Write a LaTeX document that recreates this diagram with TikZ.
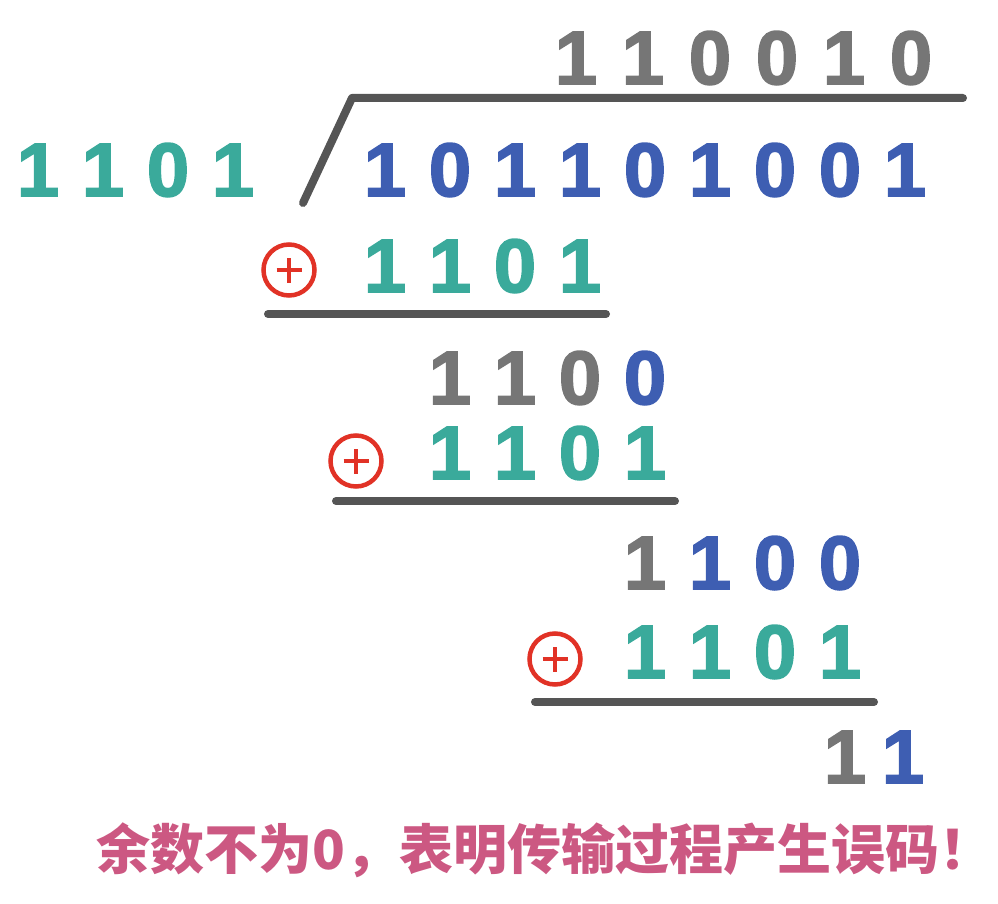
\documentclass[tikz,border=0pt]{standalone}
\usepackage{fontspec}
\setmainfont{Liberation Sans}
\newfontfamily\digfont{Liberation Sans Bold}[FakeBold=2.2]
\newfontfamily\cjk{Noto Sans CJK SC}
\definecolor{tl}{RGB}{58,170,155}
\definecolor{bl}{RGB}{62,94,178}
\definecolor{gy}{RGB}{118,118,118}
\definecolor{rulec}{RGB}{85,85,85}
\definecolor{opred}{RGB}{225,50,38}
\definecolor{msgc}{RGB}{204,88,130}
\begin{document}
\begin{tikzpicture}[x=1pt,y=-1pt]
\tikzset{
  dig/.style={font=\digfont\fontsize{76}{76}\selectfont, inner sep=0pt, anchor=center},
  rulel/.style={draw=rulec, line width=8pt, line cap=round, line join=round},
  oplus/.style={circle, draw=opred, line width=4.5pt, minimum size=51pt, inner sep=0pt,
    path picture={\draw[opred, line width=4.5pt]
      ([xshift=-12.5pt]path picture bounding box.center) -- ([xshift=12.5pt]path picture bounding box.center)
      ([yshift=-12.5pt]path picture bounding box.center) -- ([yshift=12.5pt]path picture bounding box.center);}},
  msg/.style={font=\cjk\bfseries\fontsize{54}{54}\selectfont, text=msgc, inner sep=0pt}
}
\useasboundingbox (0,0) rectangle (998,904);
% quotient
\foreach \d/\c [count=\i] in {1/gy,1/gy,0/gy,0/gy,1/gy,0/gy}
  \node[dig,text=\c] (q\i) at ({576+67*(\i-1)},58) {\d};
% divisor
\foreach \d/\c [count=\i] in {1/tl,1/tl,0/tl,1/tl}
  \node[dig,text=\c] (g\i) at ({38+65*(\i-1)},170) {\d};
% dividend
\foreach \d/\c [count=\i] in {1/bl,0/bl,1/bl,1/bl,0/bl,1/bl,0/bl,0/bl,1/bl}
  \node[dig,text=\c] (m\i) at ({385+65*(\i-1)},170) {\d};
% division bracket
\coordinate (b1) at (303,203);
\coordinate (b2) at (352,98);
\coordinate (b3) at (963,98);
\draw[rulel] (b1) -- (b2) -- (b3);
% step 1
\node[oplus] (p1) at (289,270) {};
\foreach \d [count=\i] in {1,1,0,1}
  \node[dig,text=tl] (s1\i) at ({385+65*(\i-1)},266) {\d};
\coordinate (u1a) at (268,314);
\coordinate (u1b) at (606,314);
\draw[rulel] (u1a) -- (u1b);
% remainder 1
\foreach \d/\c [count=\i] in {1/gy,1/gy,0/gy,0/bl}
  \node[dig,text=\c] (r1\i) at ({450+65*(\i-1)},378) {\d};
% step 2
\node[oplus] (p2) at (356,461) {};
\foreach \d [count=\i] in {1,1,0,1}
  \node[dig,text=tl] (s2\i) at ({450+65*(\i-1)},453) {\d};
\coordinate (u2a) at (336,501);
\coordinate (u2b) at (675,501);
\draw[rulel] (u2a) -- (u2b);
% remainder 2
\foreach \d/\c [count=\i] in {1/gy,1/bl,0/bl,0/bl}
  \node[dig,text=\c] (r2\i) at ({645+65*(\i-1)},563) {\d};
% step 3
\node[oplus] (p3) at (555,659) {};
\foreach \d [count=\i] in {1,1,0,1}
  \node[dig,text=tl] (s3\i) at ({645+65*(\i-1)},652) {\d};
\coordinate (u3a) at (535,702);
\coordinate (u3b) at (874,702);
\draw[rulel] (u3a) -- (u3b);
% final remainder
\node[dig,text=gy] (f1) at (845,757) {1};
\node[dig,text=bl] (f2) at (903,757) {1};
% message
\node[msg] (note) at (545,850) {余数不为0，表明传输过程产生误码！};
\end{tikzpicture}
\end{document}
